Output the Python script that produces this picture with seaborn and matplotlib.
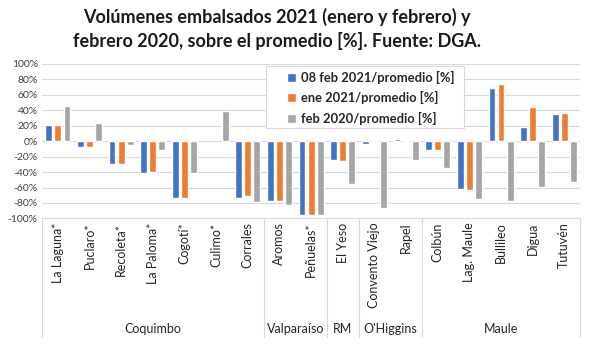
import numpy as np
import pandas as pd
import matplotlib
matplotlib.use("Agg")
import matplotlib.pyplot as plt
import matplotlib.transforms as mtransforms
from matplotlib.patches import Rectangle
import seaborn as sns

embalses = ["La Laguna*", "Puclaro*", "Recoleta*", "La Paloma*", "Cogotí*", "Culimo*",
            "Corrales", "Aromos", "Peñuelas*", "El Yeso", "Convento Viejo", "Rapel",
            "Colbún", "Lag. Maule", "Bullileo", "Digua", "Tutuvén"]
feb2021 = [21, -8, -29, -41, -73, np.nan, -74, -77, -96, -24, -3.5, 3, -11, -62, 69, 19, 35]
ene2021 = [21, -7, -29, -40, -73, np.nan, -71, -77, -96, -25, -1, 1, -12, -63, 74, 44, 37]
feb2020 = [46, 23, -5, -12, -41, 39, -79, -83, -96, -56, -87, -24, -35, -75, -77, -59, -53]
series = ["08 feb 2021/promedio [%]", "ene 2021/promedio [%]", "feb 2020/promedio [%]"]
regiones = ["Coquimbo", "Valparaíso", "RM", "O'Higgins", "Maule"]
n_por_region = [7, 2, 1, 2, 5]
yticks = [100, 80, 60, 40, 20, 0, -20, -40, -60, -80, -100]

sns.set_theme(style="white")
plt.rcParams['font.family'] = ['Lato', 'DejaVu Sans']

rows = []
for vals, s in zip([feb2021, ene2021, feb2020], series):
    for e, v in zip(embalses, vals):
        rows.append({"embalse": e, "serie": s, "valor": v})
df = pd.DataFrame(rows)

fig = plt.figure(figsize=(6.0, 3.44), dpi=100)
ax = fig.add_axes([0.07, 0.365, 0.897, 0.449])

palette = ["#4472C4", "#ED7D31", "#A5A5A5"]
sns.barplot(data=df, x="embalse", y="valor", hue="serie", order=embalses,
            hue_order=series, palette=palette, width=0.86, gap=0.25,
            saturation=1, ax=ax, errorbar=None, legend=True)

ax.set_ylim(-100, 100)
ax.set_xlim(-0.5, len(embalses) - 0.5)
ax.set_yticks(yticks)
ax.set_yticklabels([f"{t}%" for t in yticks], fontsize=7.5, color="#404040")
ax.yaxis.grid(True, color="#D9D9D9", linewidth=0.8)
ax.set_axisbelow(True)
ax.set_xlabel("")
ax.set_ylabel("")
for s in ["top", "right", "left"]:
    ax.spines[s].set_visible(False)
ax.spines["bottom"].set_color("#D9D9D9")
ax.spines["bottom"].set_linewidth(0.8)

ax.set_xticks(range(len(embalses)))
ax.set_xticklabels(embalses, rotation=90, fontsize=9, color="#262626", va="top")
ax.tick_params(axis="x", length=0, pad=3)
ax.tick_params(axis="y", length=0, pad=3)

trans = mtransforms.blended_transform_factory(ax.transData, ax.transAxes)
bounds = np.concatenate([[0], np.cumsum(n_por_region)]) - 0.5
for b in bounds:
    ax.plot([b, b], [0, -0.767], transform=trans, color="#D9D9D9", lw=0.8, clip_on=False)
for i, r in enumerate(regiones):
    c = (bounds[i] + bounds[i + 1]) / 2
    ax.text(c, -0.715, r, transform=trans, ha="center", va="center",
            fontsize=9, color="#262626")

# legend box
box = Rectangle((0.416, 0.586), 0.368, 0.401, transform=ax.transAxes,
                facecolor="white", edgecolor="#D9D9D9", linewidth=0.8, zorder=4)
ax.add_patch(box)
leg = ax.legend(loc="upper left", bbox_to_anchor=(0.455, 0.955), frameon=False,
                prop={"weight": "bold", "size": 9.3},
                handlelength=0.7, handleheight=0.7, handletextpad=0.4,
                labelspacing=0.58, borderpad=0, borderaxespad=0)
leg.set_zorder(5)
for t in leg.get_texts():
    t.set_color("#262626")

fig.text(0.461, 0.950, "Volúmenes embalsados 2021 (enero y febrero) y", ha="center",
         va="center", fontsize=13, fontweight="bold", color="#1a1a1a")
fig.text(0.461, 0.882, "febrero 2020, sobre el promedio [%]. Fuente: DGA.", ha="center",
         va="center", fontsize=13, fontweight="bold", color="#1a1a1a")

fig.savefig("out.png", dpi=100)
